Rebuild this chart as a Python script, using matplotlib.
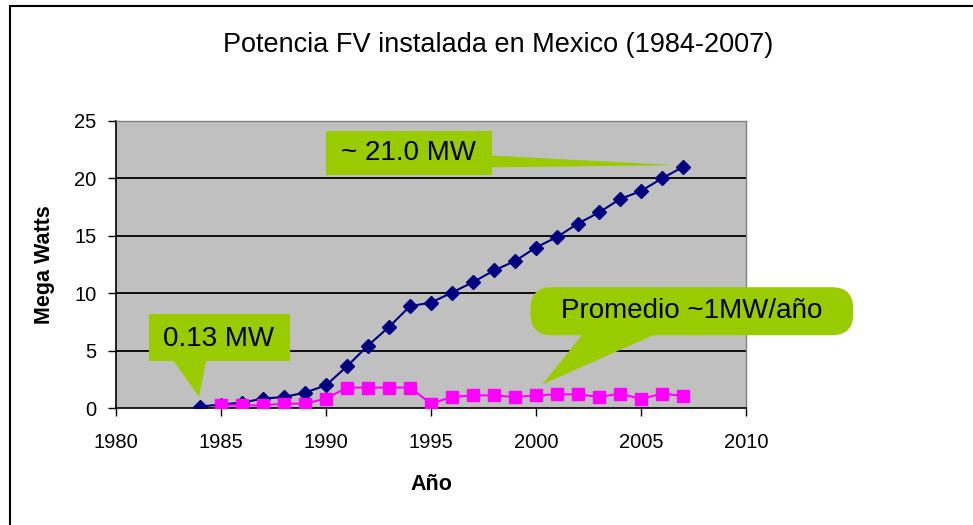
import matplotlib
matplotlib.use("Agg")
import matplotlib.pyplot as plt
from matplotlib.patches import Polygon, FancyBboxPatch, Rectangle

plt.rcParams['font.family'] = ['Liberation Sans', 'DejaVu Sans']

# Installed PV capacity (cumulative) and yearly additions, MW
years_total = list(range(1984, 2008))
total_mw = [0.13, 0.30, 0.47, 0.82, 0.96, 1.34, 1.98, 3.63, 5.44, 7.06, 8.87, 9.18,
            10.06, 10.96, 11.98, 12.80, 13.98, 14.90, 16.07, 17.03, 18.20, 18.90, 20.00, 21.00]
years_added = list(range(1985, 2008))
added_mw = [0.23, 0.23, 0.23, 0.38, 0.38, 0.82, 1.78, 1.78, 1.78, 1.78, 0.38,
            0.96, 1.10, 1.10, 0.96, 1.10, 1.19, 1.19, 0.96, 1.25, 0.79, 1.25, 1.05]

x_ticks = [1980, 1985, 1990, 1995, 2000, 2005, 2010]
y_ticks = [0, 5, 10, 15, 20, 25]

title = "Potencia FV instalada en Mexico (1984-2007)"
label_total = "~ 21.0 MW"
label_first = "0.13 MW"
label_avg = "Promedio ~1MW/año"

W, H = 973, 525
fig = plt.figure(figsize=(W / 100, H / 100), dpi=100)
fig.patch.set_facecolor("white")

# outer chart frame (left and top edges visible)
fig.add_artist(Rectangle((10 / W, -0.1), 1.2, (H - 6) / H + 0.1, transform=fig.transFigure,
                         fill=False, edgecolor="black", linewidth=1.5))

ax = fig.add_axes([116 / W, (H - 408) / H, 630 / W, 287 / H])
ax.set_facecolor("#C0C0C0")
ax.set_xlim(1980, 2010)
ax.set_ylim(0, 25)
ax.set_xticks(x_ticks)
ax.set_yticks(y_ticks)
ax.tick_params(direction="out", length=6, width=1, labelsize=14.5, pad=8, colors="black")
ax.tick_params(axis="x", pad=12)
for side in ("top", "right"):
    ax.spines[side].set_color("#808080")
    ax.spines[side].set_linewidth(1)
for side in ("left", "bottom"):
    ax.spines[side].set_color("black")
    ax.spines[side].set_linewidth(1.2)
for yv in y_ticks[1:-1]:
    ax.axhline(yv, color="black", linewidth=1.3, zorder=1)

ax.plot(years_total, total_mw, color="#000080", linewidth=1.5, marker="D",
        markersize=7, markerfacecolor="#000080", markeredgecolor="#000080", zorder=7)
ax.plot(years_added, added_mw, color="#FF00FF", linewidth=1.5, marker="s",
        markersize=8, markerfacecolor="#FF00FF", markeredgecolor="#FF00FF", zorder=8)

ax.set_xlabel("Año", fontsize=15.5, fontweight="bold", labelpad=16)
ax.set_ylabel("Mega Watts", fontsize=15.5, fontweight="bold", labelpad=14)

fig.text(498 / W, 1 - 45 / H, title, fontsize=19.5, ha="center", va="center")

green = "#99CC00"

# callout for the 2007 total
x_end, y_end = years_total[-1], total_mw[-1]
ax.add_patch(Polygon([(1997.8, 22.0), (1997.8, 20.96), (x_end - 0.3, y_end + 0.15)],
                     closed=True, facecolor=green, edgecolor="none", zorder=5, clip_on=False))
ax.add_patch(Rectangle((1990.0, 20.29), 7.9, 3.83, facecolor=green, edgecolor="none",
                       zorder=5, clip_on=False))
ax.text(1993.95, 22.2, label_total, fontsize=20, ha="center", va="center", zorder=6)

# callout for the 1984 start
x0, y0 = years_total[0], total_mw[0]
ax.add_patch(Polygon([(1982.7, 4.2), (1984.3, 4.2), (x0 - 0.05, y0 + 0.85)],
                     closed=True, facecolor=green, edgecolor="none", zorder=5, clip_on=False))
ax.add_patch(Rectangle((1981.57, 4.07), 6.73, 4.1, facecolor=green, edgecolor="none",
                       zorder=5, clip_on=False))
ax.text(1984.9, 6.05, label_first, fontsize=20, ha="center", va="center", zorder=6)

# callout for the yearly average
xa = years_added[years_added.index(2000)]
ya = added_mw[years_added.index(2000)]
ax.add_patch(Polygon([(2002.3, 6.6), (2005.9, 6.6), (xa + 0.3, ya + 0.95)],
                     closed=True, facecolor=green, edgecolor="none", zorder=5, clip_on=False))
ax.add_patch(FancyBboxPatch((1999.74, 6.34), 15.36, 4.18,
                            boxstyle="round,pad=0,rounding_size=1.0",
                            mutation_aspect=1.83, facecolor=green, edgecolor="none",
                            zorder=5, clip_on=False))
ax.text(2007.4, 8.45, label_avg, fontsize=20, ha="center", va="center", zorder=6)

fig.savefig("out.png", dpi=100, facecolor="white")
